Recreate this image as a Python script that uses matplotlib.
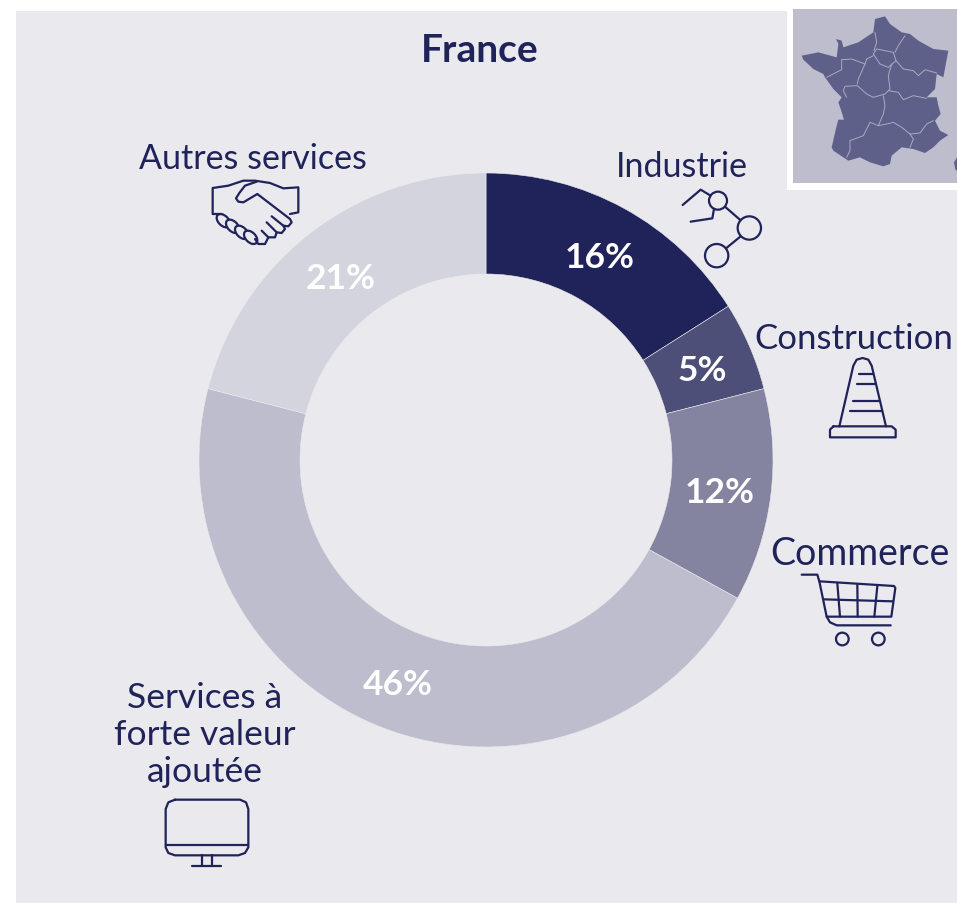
import matplotlib
matplotlib.use("Agg")
import matplotlib.pyplot as plt
from matplotlib.patches import Circle, Ellipse, Polygon, Rectangle

# =========================
# DATA
# =========================
secteurs = ["Industrie", "Construction", "Commerce", "Services à\nforte valeur\najoutée", "Autres services"]
parts = [16, 5, 12, 46, 21]
couleurs = ["#20235A", "#4E4F79", "#8484A1", "#BDBDCE", "#D4D4DE"]
titre = "France"

# label positions in reference pixels
pos_pct = [(600, 258), (702, 371), (720, 493), (398, 685), (341, 279)]
pos_noms = [(682, 167), (854, 339), (860, 554), (205, 735), (253, 159)]
tailles_noms = [24.5, 25, 27, 25.5, 24.5]

W, H = 957, 904
NAVY = "#20235A"
FOND = "#E9E9EE"
FONT = ["Lato", "DejaVu Sans"]

fig = plt.figure(figsize=(W / 100, H / 100), dpi=100, facecolor="white")

# pixel overlay for background, icons and text
ov = fig.add_axes([0, 0, 1, 1], zorder=1)
ov.set_xlim(0, W)
ov.set_ylim(H, 0)
ov.axis("off")
ov.add_patch(Rectangle((16, 12), W - 16, H - 12, fc=FOND, ec="none"))

# =========================
# DONUT
# =========================
cx, cy, R = 486, 461, 287
ax = fig.add_axes([(cx - R) / W, 1 - (cy + R) / H, 2 * R / W, 2 * R / H], zorder=2)
ax.pie(parts, colors=couleurs, startangle=90, counterclock=False, radius=1,
       wedgeprops=dict(width=101 / 287, edgecolor=FOND, linewidth=0.4))
ax.set_xlim(-1, 1)
ax.set_ylim(-1, 1)

# text goes on its own layer, above the donut
tx = fig.add_axes([0, 0, 1, 1], zorder=3)
tx.set_xlim(0, W)
tx.set_ylim(H, 0)
tx.axis("off")

for v, (x, y) in zip(parts, pos_pct):
    tx.text(x, y, f"{v}%", color="white", fontsize=25.5, fontweight="bold",
            family=FONT, ha="center", va="center")

for nom, (x, y), t in zip(secteurs, pos_noms, tailles_noms):
    tx.text(x, y, nom, color=NAVY, fontsize=t, fontweight="normal", family=FONT,
            ha="center", va="center", linespacing=1.2)

tx.text(480, 50, titre, color=NAVY, fontsize=28, fontweight="bold", family=FONT,
        ha="center", va="center")


# =========================
# ICONS (traced from 3x crops)
# =========================
def line(pts, ox, oy, lw=1.6, color=NAVY, ax=tx):
    ax.plot([ox + p[0] / 3 for p in pts], [oy + p[1] / 3 for p in pts],
            color=color, lw=lw, solid_capstyle="round", solid_joinstyle="round")


def ring(x, y, r, ox, oy, lw=1.6):
    tx.add_patch(Circle((ox + x / 3, oy + y / 3), r / 3, fc="none", ec=NAVY, lw=lw))


# handshake
hx, hy = 200, 170
line([(65, 135), (38, 135), (38, 57), (85, 50), (130, 35), (165, 35), (210, 42), (250, 58), (295, 55),
      (295, 130), (270, 135)], hx, hy)
line([(170, 38), (135, 50), (118, 72), (108, 88), (115, 98), (130, 100), (172, 75), (270, 150), (275, 160),
      (265, 172), (250, 170), (215, 142)], hx, hy)
line([(250, 170), (255, 180), (245, 192), (230, 190), (200, 160)], hx, hy)
line([(230, 190), (225, 205), (205, 205), (185, 185)], hx, hy)
line([(205, 205), (195, 225), (175, 225), (165, 210)], hx, hy)
for ex, ey in [(70, 155), (98, 172), (125, 190), (152, 205)]:
    tx.add_patch(Ellipse((hx + ex / 3, hy + ey / 3), 16, 10, angle=45, fc=FOND, ec=NAVY, lw=1.6))

# industry nodes
ix, iy = 670, 180
line([(38, 78), (92, 32), (122, 50)], ix, iy)
line([(62, 128), (127, 118), (132, 90)], ix, iy)
line([(166, 84), (212, 124)], ix, iy)
line([(212, 172), (168, 208)], ix, iy)
ring(144, 65, 27, ix, iy)
ring(238, 147, 35, ix, iy)
ring(140, 230, 35, ix, iy)

# traffic cone
kx, ky = 790, 350
line([(148, 232), (190, 50), (200, 32), (218, 27), (235, 32), (245, 50), (288, 232)], kx, ky)
line([(130, 232), (305, 232), (317, 242), (317, 265), (120, 265), (120, 242), (130, 232)], kx, ky)
line([(208, 75), (248, 75)], kx, ky)
line([(202, 104), (255, 104)], kx, ky)
line([(188, 157), (268, 157)], kx, ky)
line([(180, 187), (276, 187)], kx, ky)

# shopping cart
sx, sy = 790, 565
line([(35, 32), (82, 32), (88, 52), (110, 158), (120, 175), (140, 184), (302, 184)], sx, sy)
line([(88, 52), (312, 66), (316, 72), (304, 158), (110, 158)], sx, sy)
line([(100, 106), (308, 112)], sx, sy)
line([(142, 58), (150, 158)], sx, sy)
line([(202, 62), (203, 158)], sx, sy)
line([(262, 66), (253, 158)], sx, sy)
ring(157, 225, 19, sx, sy)
ring(265, 225, 19, sx, sy)

# monitor
mx, my = 150, 790
line([(75, 32), (270, 32), (288, 40), (295, 60), (295, 175), (285, 192), (265, 199), (75, 199), (55, 192),
      (47, 175), (47, 60), (55, 40), (75, 32)], mx, my)
line([(47, 168), (295, 168)], mx, my)
line([(156, 199), (156, 230)], mx, my)
line([(186, 199), (186, 230)], mx, my)
line([(127, 230), (214, 230)], mx, my)

# =========================
# MAP INSET
# =========================
tx.add_patch(Rectangle((787, 4), 170, 187, fc="white", ec="none"))
tx.add_patch(Rectangle((793, 10), 164, 174, fc="#BDBDCE", ec="none"))

contour = [(315, 60), (345, 52), (360, 75), (395, 100), (420, 105), (445, 125), (490, 150), (535, 155), (520, 235),
           (500, 225), (495, 270), (470, 295), (500, 295), (505, 320), (512, 345), (495, 365), (510, 395), (535, 408),
           (510, 425), (490, 445), (465, 462), (430, 450), (395, 445), (365, 470), (360, 495), (340, 502), (300, 490),
           (270, 475), (235, 485), (190, 455), (185, 445), (200, 380), (205, 362), (222, 362), (212, 330), (205, 310),
           (215, 295), (190, 270), (165, 235), (160, 225), (130, 210), (100, 182), (95, 170), (145, 160), (200, 175),
           (205, 135), (198, 120), (215, 125), (220, 145), (265, 130), (310, 100)]
ox, oy = 770, 0
tx.add_patch(Polygon([(ox + p[0] / 3, oy + p[1] / 3) for p in contour], closed=True, fc="#5F6089", ec="none"))
tx.add_patch(Polygon([(ox + p[0] / 3, oy + p[1] / 3) for p in [(561, 475), (552, 490), (556, 512), (561, 515)]],
                     closed=True, fc="#5F6089", ec="none"))

regions = [
    [(310, 165), (320, 150), (370, 160), (378, 185), (355, 205), (330, 195), (310, 165)],
    [(315, 100), (320, 130), (312, 155)],
    [(405, 110), (385, 140), (375, 160)],
    [(378, 185), (400, 210), (430, 215), (445, 230), (465, 212), (500, 222)],
    [(365, 195), (355, 230), (360, 270), (345, 285), (310, 295), (290, 285), (262, 260), (225, 262), (220, 275), (230, 295)],
    [(215, 182), (245, 180), (285, 195), (265, 240), (262, 255)],
    [(310, 170), (290, 180), (285, 195)],
    [(355, 275), (385, 280), (400, 302), (430, 290), (470, 298)],
    [(340, 290), (345, 320), (340, 345), (325, 380), (300, 370), (280, 410), (240, 425), (240, 455), (230, 475)],
    [(325, 380), (350, 375), (370, 370), (395, 385), (420, 405), (450, 402), (470, 375), (490, 365)],
    [(420, 405), (430, 420), (420, 445)],
    [(170, 235), (215, 212), (215, 182)],
]
for r in regions:
    line(r, ox, oy, lw=0.7, color="#A9AAC2")

fig.savefig("out.png", dpi=100)
